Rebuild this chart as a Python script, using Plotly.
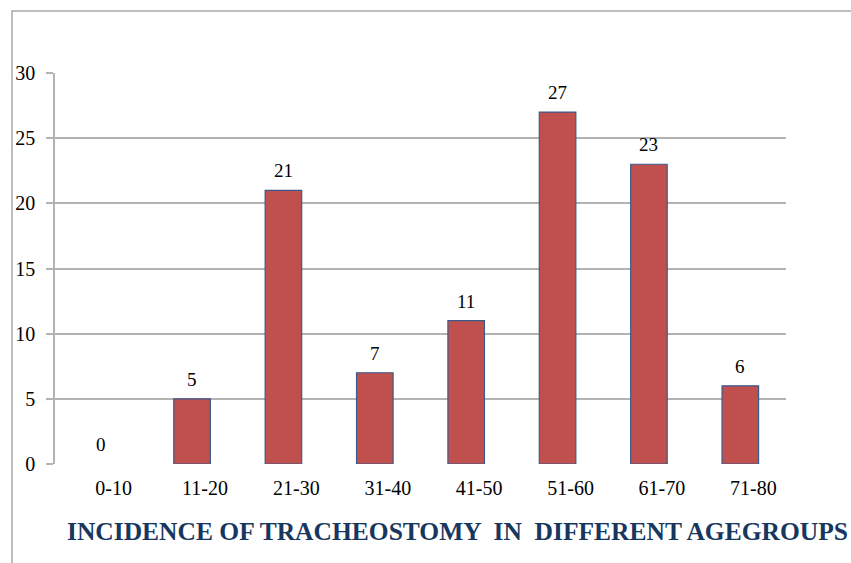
import plotly.graph_objects as go

categories = ["0-10", "11-20", "21-30", "31-40", "41-50", "51-60", "61-70", "71-80"]
values = [0, 5, 21, 7, 11, 27, 23, 6]
y_ticks = [0, 5, 10, 15, 20, 25, 30]

W, H = 851, 563
# plot area in page pixels
X0, X1, Y0, Y1 = 55, 786, 73, 464

L, T = X0, Y0
R, B = W - X1, H - Y1
pw = X1 - X0
ph = Y1 - Y0

def px_x(x):
    return (x - X0) / pw

def px_y(y):
    return (Y1 - y) / ph

fig = go.Figure(go.Bar(
    x=categories, y=values,
    marker=dict(color="#C0504D",
                line=dict(color="#3A5A8C", width=[0 if v == 0 else 1.2 for v in values])),
    cliponaxis=False,
))

value_labels = [dict(x=c, y=v, xref="x", yref="y", text=str(v), showarrow=False,
                     xanchor="center", yanchor="bottom", yshift=7,
                     font=dict(family="Liberation Serif", size=19, color="#000"))
                for c, v in zip(categories, values)]

fig.update_layout(
    width=W, height=H,
    margin=dict(l=L, r=R, t=T, b=B, autoexpand=False),
    paper_bgcolor="white", plot_bgcolor="white",
    bargap=0.6, showlegend=False,
    font=dict(family="Liberation Serif", size=20, color="#000"),
    xaxis=dict(showgrid=False, showline=False, ticks="", tickfont=dict(size=20),
               ticklabelstandoff=10, ticklabelshift=13, automargin=False),
    yaxis=dict(range=[0, 30], tickvals=y_ticks, showgrid=True, gridcolor="#B3B3B3",
               gridwidth=1.5, showline=True, linecolor="#B3B3B3", linewidth=1.5,
               ticks="outside", ticklen=7, tickcolor="#B3B3B3", tickwidth=1.5,
               tickfont=dict(size=20), zeroline=False, ticklabelstandoff=7,
               automargin=False),
    shapes=[dict(type="rect", xref="paper", yref="paper",
                 x0=px_x(12), x1=px_x(870), y0=px_y(11), y1=px_y(580),
                 line=dict(color="#ABABAB", width=1.5), fillcolor="rgba(0,0,0,0)", layer="below")],
    annotations=value_labels + [dict(text="<b>INCIDENCE OF TRACHEOSTOMY  IN  DIFFERENT AGEGROUPS</b>",
                      xref="paper", yref="paper", x=px_x(457), y=px_y(531),
                      xanchor="center", yanchor="middle", showarrow=False,
                      font=dict(family="Liberation Serif", size=25.5, color="#17375E"))],
)

fig.write_html("out.html", config={"displayModeBar": False},
               post_script="document.body.style.margin='0px';document.body.style.overflow='hidden';")
